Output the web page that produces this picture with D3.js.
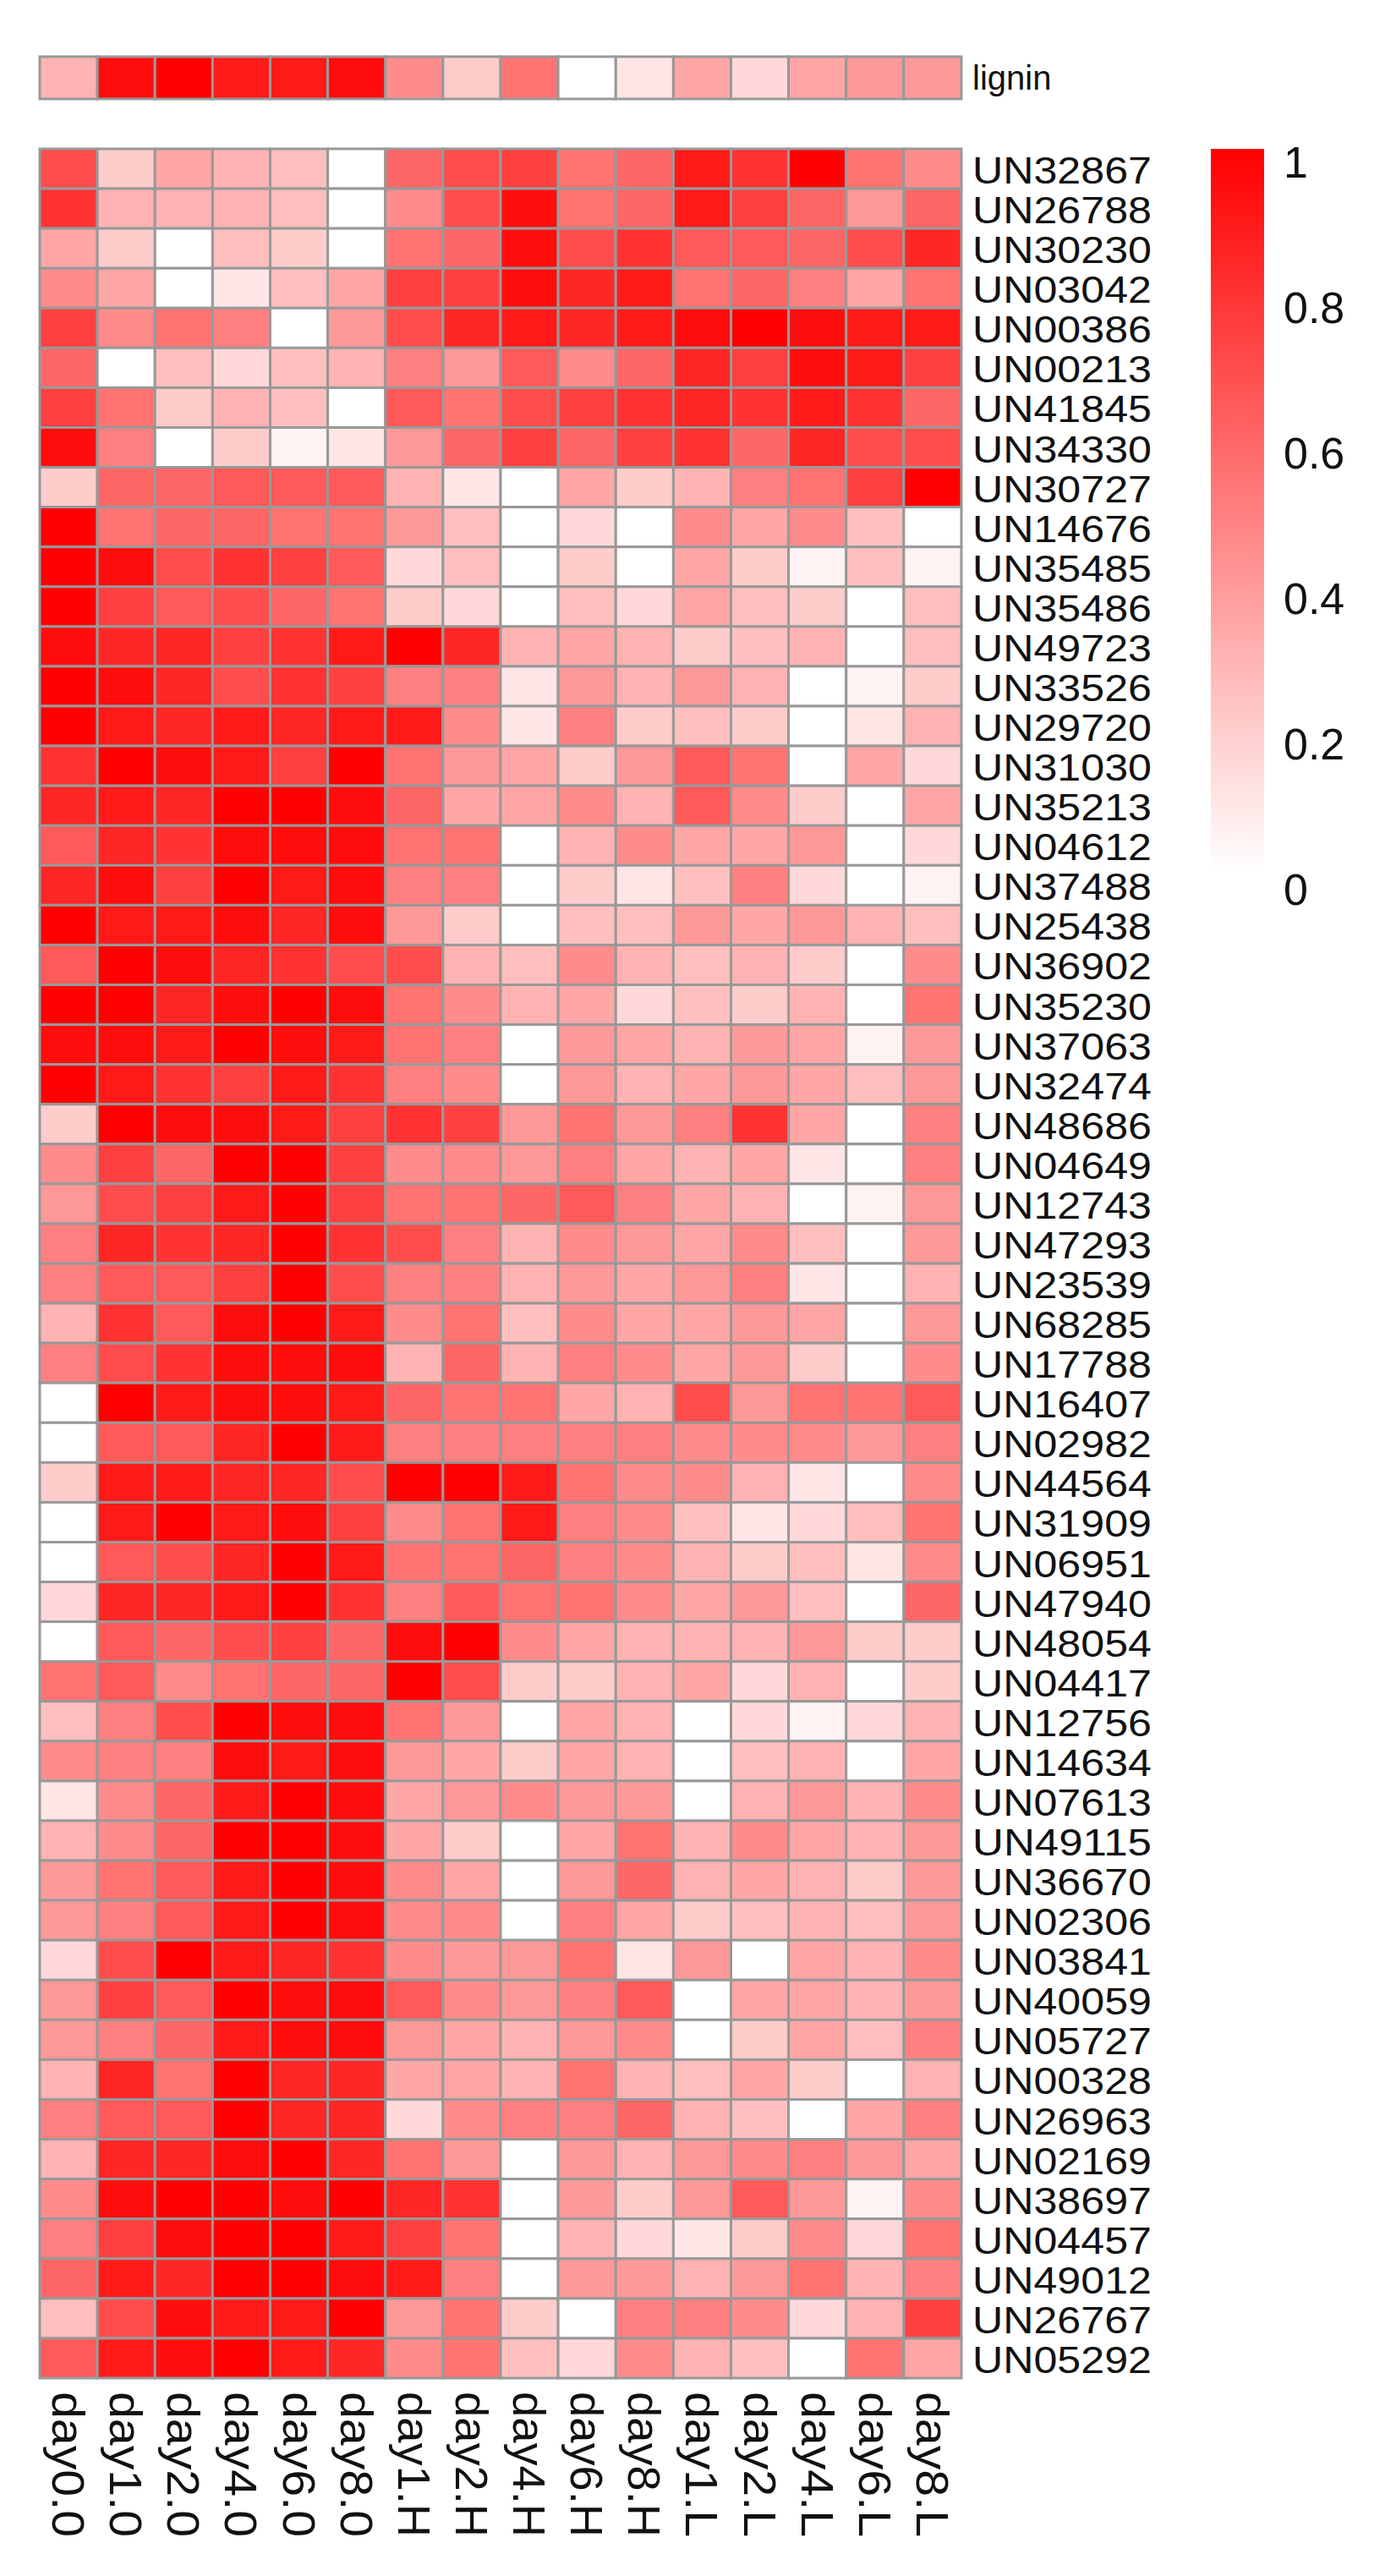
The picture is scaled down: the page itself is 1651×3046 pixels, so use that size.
<!DOCTYPE html>
<html>
<head>
<meta charset="utf-8">
<script src="https://cdn.jsdelivr.net/npm/d3@7"></script>
<style>
  body { margin: 0; background: #fff; }
  text { font-family: "Liberation Sans", Arial, sans-serif; fill: #111; }
</style>
</head>
<body>
<script>
var samples = ["day0.0","day1.0","day2.0","day4.0","day6.0","day8.0","day1.H","day2.H","day4.H","day6.H","day8.H","day1.L","day2.L","day4.L","day6.L","day8.L"];

var lignin = [0.3,0.95,1.0,0.9,0.9,0.95,0.45,0.2,0.55,0.0,0.1,0.35,0.15,0.35,0.4,0.4];

var genes = ["UN32867","UN26788","UN30230","UN03042","UN00386","UN00213","UN41845","UN34330","UN30727","UN14676",
  "UN35485","UN35486","UN49723","UN33526","UN29720","UN31030","UN35213","UN04612","UN37488","UN25438",
  "UN36902","UN35230","UN37063","UN32474","UN48686","UN04649","UN12743","UN47293","UN23539","UN68285",
  "UN17788","UN16407","UN02982","UN44564","UN31909","UN06951","UN47940","UN48054","UN04417","UN12756",
  "UN14634","UN07613","UN49115","UN36670","UN02306","UN03841","UN40059","UN05727","UN00328","UN26963",
  "UN02169","UN38697","UN04457","UN49012","UN26767","UN05292"];

var values = [
  [0.7,0.2,0.35,0.3,0.25,0.0,0.6,0.7,0.75,0.55,0.6,0.9,0.8,1.0,0.55,0.45],
  [0.8,0.3,0.3,0.3,0.25,0.0,0.45,0.7,0.95,0.55,0.6,0.9,0.75,0.6,0.4,0.6],
  [0.35,0.2,0.0,0.25,0.2,0.0,0.55,0.6,0.95,0.7,0.8,0.65,0.65,0.6,0.7,0.85],
  [0.45,0.35,0.0,0.1,0.25,0.35,0.75,0.75,0.95,0.85,0.9,0.55,0.6,0.5,0.35,0.55],
  [0.75,0.45,0.55,0.5,0.0,0.4,0.7,0.85,0.9,0.85,0.9,0.95,1.0,0.95,0.9,0.9],
  [0.6,0.0,0.25,0.15,0.25,0.3,0.5,0.4,0.65,0.45,0.6,0.85,0.75,0.95,0.9,0.75],
  [0.75,0.55,0.2,0.3,0.25,0.0,0.65,0.55,0.7,0.75,0.8,0.85,0.8,0.9,0.8,0.6],
  [0.95,0.5,0.0,0.2,0.05,0.1,0.4,0.6,0.75,0.6,0.75,0.8,0.6,0.85,0.7,0.7],
  [0.2,0.6,0.6,0.65,0.65,0.65,0.3,0.1,0.0,0.35,0.2,0.3,0.5,0.55,0.75,1.0],
  [1.0,0.55,0.6,0.6,0.55,0.55,0.4,0.25,0.0,0.15,0.0,0.45,0.35,0.45,0.25,0.0],
  [1.0,0.95,0.7,0.8,0.75,0.65,0.15,0.25,0.0,0.2,0.0,0.35,0.2,0.05,0.25,0.05],
  [1.0,0.75,0.65,0.7,0.6,0.55,0.2,0.15,0.0,0.25,0.15,0.35,0.25,0.2,0.0,0.25],
  [0.95,0.85,0.85,0.75,0.8,0.9,1.0,0.85,0.3,0.35,0.3,0.2,0.25,0.3,0.0,0.25],
  [1.0,0.95,0.85,0.7,0.8,0.75,0.5,0.5,0.1,0.4,0.3,0.4,0.3,0.0,0.05,0.2],
  [1.0,0.9,0.85,0.9,0.85,0.9,0.9,0.45,0.1,0.5,0.2,0.25,0.2,0.0,0.1,0.3],
  [0.8,1.0,0.95,0.9,0.75,1.0,0.55,0.4,0.35,0.2,0.4,0.65,0.55,0.0,0.35,0.15],
  [0.85,0.9,0.85,1.0,1.0,0.95,0.6,0.35,0.35,0.45,0.3,0.65,0.45,0.2,0.0,0.35],
  [0.65,0.85,0.8,0.95,0.95,0.95,0.55,0.55,0.0,0.3,0.45,0.35,0.35,0.4,0.0,0.15],
  [0.85,0.95,0.75,1.0,0.9,0.95,0.5,0.5,0.0,0.2,0.1,0.25,0.5,0.15,0.0,0.05],
  [1.0,0.9,0.9,0.95,0.85,0.95,0.4,0.2,0.0,0.25,0.25,0.4,0.35,0.4,0.3,0.25],
  [0.65,1.0,0.95,0.85,0.8,0.7,0.7,0.3,0.25,0.45,0.3,0.25,0.3,0.2,0.0,0.45],
  [1.0,1.0,0.85,0.95,1.0,0.95,0.55,0.45,0.3,0.35,0.15,0.25,0.2,0.3,0.0,0.55],
  [0.95,0.95,0.9,1.0,0.95,0.9,0.55,0.5,0.0,0.4,0.35,0.3,0.4,0.35,0.05,0.4],
  [1.0,0.9,0.8,0.75,0.9,0.8,0.5,0.45,0.0,0.4,0.3,0.35,0.4,0.35,0.25,0.4],
  [0.2,1.0,0.95,0.95,0.9,0.75,0.8,0.75,0.4,0.55,0.4,0.5,0.8,0.35,0.0,0.5],
  [0.45,0.75,0.6,1.0,1.0,0.75,0.45,0.45,0.4,0.5,0.35,0.3,0.35,0.1,0.0,0.5],
  [0.4,0.7,0.75,0.9,1.0,0.75,0.55,0.55,0.6,0.65,0.5,0.35,0.3,0.0,0.05,0.4],
  [0.5,0.85,0.8,0.85,1.0,0.8,0.7,0.5,0.3,0.45,0.4,0.35,0.45,0.25,0.0,0.4],
  [0.5,0.65,0.65,0.75,1.0,0.7,0.5,0.5,0.3,0.4,0.35,0.4,0.5,0.1,0.0,0.3],
  [0.3,0.8,0.65,0.95,1.0,0.9,0.45,0.55,0.25,0.45,0.35,0.35,0.4,0.35,0.0,0.4],
  [0.5,0.7,0.8,0.95,0.95,0.95,0.3,0.6,0.3,0.5,0.45,0.35,0.4,0.2,0.0,0.45],
  [0.0,1.0,0.9,0.95,0.95,0.9,0.6,0.55,0.55,0.35,0.3,0.7,0.4,0.55,0.55,0.65],
  [0.0,0.65,0.65,0.85,1.0,0.9,0.5,0.5,0.5,0.5,0.5,0.45,0.45,0.45,0.4,0.5],
  [0.2,0.9,0.9,0.85,0.85,0.7,1.0,1.0,0.9,0.55,0.45,0.45,0.3,0.1,0.0,0.45],
  [0.0,0.9,1.0,0.9,0.95,0.75,0.45,0.55,0.9,0.5,0.45,0.25,0.1,0.15,0.25,0.55],
  [0.0,0.65,0.7,0.85,1.0,0.9,0.55,0.55,0.6,0.5,0.45,0.3,0.2,0.25,0.1,0.45],
  [0.15,0.85,0.85,0.9,1.0,0.8,0.5,0.65,0.55,0.55,0.45,0.35,0.4,0.25,0.0,0.6],
  [0.0,0.65,0.6,0.7,0.75,0.6,0.95,1.0,0.45,0.35,0.3,0.3,0.3,0.4,0.2,0.2],
  [0.55,0.65,0.45,0.55,0.6,0.6,1.0,0.7,0.2,0.2,0.3,0.35,0.15,0.3,0.0,0.2],
  [0.25,0.5,0.7,1.0,0.95,0.95,0.55,0.4,0.0,0.35,0.3,0.0,0.15,0.05,0.15,0.3],
  [0.45,0.5,0.5,0.95,0.9,0.95,0.4,0.35,0.2,0.35,0.3,0.0,0.25,0.3,0.0,0.35],
  [0.1,0.45,0.6,0.9,1.0,0.95,0.35,0.4,0.45,0.4,0.4,0.0,0.3,0.4,0.3,0.45],
  [0.3,0.45,0.6,1.0,1.0,0.95,0.35,0.2,0.0,0.35,0.55,0.3,0.45,0.35,0.3,0.4],
  [0.4,0.55,0.65,0.9,1.0,0.95,0.45,0.35,0.0,0.4,0.6,0.3,0.35,0.3,0.2,0.4],
  [0.4,0.5,0.65,0.9,1.0,0.95,0.45,0.45,0.0,0.5,0.35,0.2,0.25,0.3,0.25,0.4],
  [0.15,0.7,1.0,0.9,0.85,0.8,0.45,0.4,0.4,0.55,0.1,0.4,0.0,0.35,0.3,0.45],
  [0.4,0.75,0.65,1.0,0.95,0.95,0.65,0.45,0.4,0.5,0.65,0.0,0.35,0.35,0.3,0.4],
  [0.4,0.5,0.6,0.9,0.95,0.95,0.4,0.35,0.3,0.4,0.45,0.0,0.2,0.35,0.25,0.5],
  [0.3,0.85,0.55,1.0,0.85,0.85,0.35,0.35,0.3,0.55,0.3,0.25,0.35,0.2,0.0,0.3],
  [0.5,0.65,0.65,1.0,0.85,0.85,0.15,0.45,0.5,0.5,0.6,0.3,0.25,0.0,0.35,0.5],
  [0.3,0.85,0.85,0.95,1.0,0.85,0.55,0.4,0.0,0.4,0.3,0.4,0.45,0.5,0.4,0.35],
  [0.45,0.95,1.0,1.0,0.95,1.0,0.85,0.8,0.0,0.4,0.2,0.4,0.65,0.4,0.05,0.45],
  [0.5,0.75,0.95,1.0,1.0,0.9,0.75,0.55,0.0,0.3,0.15,0.1,0.2,0.45,0.15,0.55],
  [0.6,0.9,0.85,1.0,1.0,0.95,0.9,0.5,0.0,0.4,0.4,0.3,0.4,0.55,0.3,0.5],
  [0.25,0.7,0.95,0.9,0.9,1.0,0.4,0.55,0.2,0.0,0.5,0.5,0.45,0.15,0.3,0.75],
  [0.65,0.9,0.95,1.0,0.9,0.85,0.45,0.55,0.25,0.15,0.45,0.3,0.25,0.0,0.55,0.35]
];

var legendTicks = [0, 0.2, 0.4, 0.6, 0.8, 1];

var W = 1651, H = 3046;
var svg = d3.select("body").append("svg").attr("width", W).attr("height", H);

var color = d3.scaleLinear().domain([0, 1]).range(["#ffffff", "#ff0000"]);

var x = d3.scaleBand().domain(samples).range([47, 1137]);
var y = d3.scaleBand().domain(genes).range([176, 2812]);

// lignin annotation row
svg.append("g").selectAll("rect")
  .data(lignin)
  .join("rect")
  .attr("x", function (d, i) { return x(samples[i]); })
  .attr("y", 67)
  .attr("width", x.bandwidth())
  .attr("height", 50)
  .attr("fill", function (d) { return color(d); })
  .attr("stroke", "#999")
  .attr("stroke-width", 3);

svg.append("text")
  .attr("x", 1150).attr("y", 92)
  .attr("dominant-baseline", "central")
  .attr("font-size", 40)
  .text("lignin");

// main heatmap
var cells = [];
values.forEach(function (row, r) {
  row.forEach(function (v, c) { cells.push({ gene: genes[r], sample: samples[c], v: v }); });
});

svg.append("g").selectAll("rect")
  .data(cells)
  .join("rect")
  .attr("x", function (d) { return x(d.sample); })
  .attr("y", function (d) { return y(d.gene); })
  .attr("width", x.bandwidth())
  .attr("height", y.bandwidth())
  .attr("fill", function (d) { return color(d.v); })
  .attr("stroke", "#999")
  .attr("stroke-width", 3);

// row labels
svg.append("g").selectAll("text")
  .data(genes)
  .join("text")
  .attr("x", 1150)
  .attr("y", function (d) { return y(d) + y.bandwidth() / 2 + 2; })
  .attr("dominant-baseline", "central")
  .attr("font-size", 45)
  .attr("textLength", 212)
  .attr("lengthAdjust", "spacingAndGlyphs")
  .text(function (d) { return d; });

// column labels, rotated
svg.append("g").selectAll("text")
  .data(samples)
  .join("text")
  .attr("transform", function (d) { return "translate(" + (x(d) + x.bandwidth() / 2) + ",2828) rotate(90)"; })
  .attr("dominant-baseline", "central")
  .attr("font-size", 54)
  .attr("textLength", 172)
  .attr("lengthAdjust", "spacingAndGlyphs")
  .text(function (d) { return d; });

// colour legend
var ly = d3.scaleLinear().domain([0, 1]).range([1052, 192]);
var defs = svg.append("defs");
var grad = defs.append("linearGradient").attr("id", "lg")
  .attr("x1", 0).attr("y1", 1).attr("x2", 0).attr("y2", 0);
grad.append("stop").attr("offset", "0%").attr("stop-color", color(0));
grad.append("stop").attr("offset", "100%").attr("stop-color", color(1));

svg.append("rect")
  .attr("x", 1432).attr("y", ly(1) - 16)
  .attr("width", 63).attr("height", ly(0) - ly(1) - 4)
  .attr("fill", "url(#lg)");

svg.append("g").selectAll("text")
  .data(legendTicks)
  .join("text")
  .attr("x", 1518)
  .attr("y", function (d) { return ly(d); })
  .attr("dominant-baseline", "central")
  .attr("font-size", 52)
  .text(function (d) { return d; });
</script>
</body>
</html>
